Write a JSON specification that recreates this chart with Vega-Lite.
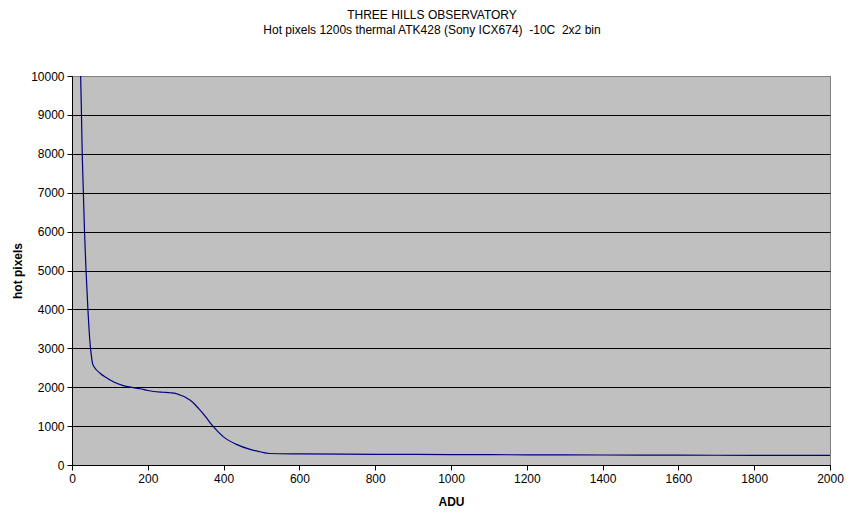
{
  "$schema": "https://vega.github.io/schema/vega-lite/v6.json",
  "width": 758,
  "height": 389,
  "autosize": {"type": "none"},
  "padding": {"left": 72, "top": 76, "right": 26, "bottom": 64},
  "background": "white",
  "config": {
    "font": "Liberation Sans",
    "view": {"fill": "#C0C0C0", "stroke": "#808080", "strokeWidth": 1}
  },
  "title": {
    "text": ["THREE HILLS OBSERVATORY", "Hot pixels 1200s thermal ATK428 (Sony ICX674) \u00a0-10C \u00a02x2 bin"],
    "fontSize": 12,
    "fontWeight": "normal",
    "font": "Liberation Sans",
    "color": "black",
    "lineHeight": 15,
    "anchor": "middle",
    "dx": -19,
    "offset": 33
  },
  "data": {
    "values": [
      {"adu": 20, "hot": 10600},
      {"adu": 23, "hot": 9900},
      {"adu": 25, "hot": 9000},
      {"adu": 27, "hot": 8000},
      {"adu": 30, "hot": 7000},
      {"adu": 33, "hot": 6000},
      {"adu": 37, "hot": 5000},
      {"adu": 42, "hot": 4000},
      {"adu": 47, "hot": 3200},
      {"adu": 50, "hot": 2900},
      {"adu": 54, "hot": 2620},
      {"adu": 60, "hot": 2500},
      {"adu": 74, "hot": 2360},
      {"adu": 90, "hot": 2250},
      {"adu": 109, "hot": 2140},
      {"adu": 135, "hot": 2040},
      {"adu": 162, "hot": 1990},
      {"adu": 180, "hot": 1960},
      {"adu": 200, "hot": 1915},
      {"adu": 215, "hot": 1890},
      {"adu": 240, "hot": 1870},
      {"adu": 259, "hot": 1858},
      {"adu": 275, "hot": 1835},
      {"adu": 285, "hot": 1800},
      {"adu": 298, "hot": 1750},
      {"adu": 311, "hot": 1670},
      {"adu": 325, "hot": 1550},
      {"adu": 338, "hot": 1410},
      {"adu": 355, "hot": 1210},
      {"adu": 369, "hot": 1030},
      {"adu": 385, "hot": 860},
      {"adu": 399, "hot": 730},
      {"adu": 434, "hot": 530},
      {"adu": 470, "hot": 400},
      {"adu": 496, "hot": 340},
      {"adu": 520, "hot": 295},
      {"adu": 600, "hot": 285},
      {"adu": 800, "hot": 275},
      {"adu": 1000, "hot": 268},
      {"adu": 1200, "hot": 262},
      {"adu": 1400, "hot": 257},
      {"adu": 1600, "hot": 253},
      {"adu": 1800, "hot": 249},
      {"adu": 2000, "hot": 245}
    ]
  },
  "mark": {"type": "line", "color": "#000080", "strokeWidth": 1.2, "interpolate": "monotone", "clip": true},
  "encoding": {
    "x": {
      "field": "adu",
      "type": "quantitative",
      "scale": {"domain": [0, 2000], "nice": false, "zero": true},
      "axis": {
        "title": "ADU",
        "titleFontSize": 12,
        "titleFontWeight": "bold",
        "titleColor": "black",
        "titlePadding": 12,
        "values": [0, 200, 400, 600, 800, 1000, 1200, 1400, 1600, 1800, 2000],
        "format": "d",
        "labelFontSize": 12,
        "labelColor": "black",
        "labelPadding": 3,
        "labelFlush": false,
        "grid": false,
        "domainColor": "black",
        "tickColor": "black",
        "tickSize": 5
      }
    },
    "y": {
      "field": "hot",
      "type": "quantitative",
      "scale": {"domain": [0, 10000], "nice": false},
      "axis": {
        "title": "hot pixels",
        "titleFontSize": 12,
        "titleFontWeight": "bold",
        "titleColor": "black",
        "titlePadding": 6,
        "values": [0, 1000, 2000, 3000, 4000, 5000, 6000, 7000, 8000, 9000, 10000],
        "format": "d",
        "labelFontSize": 12,
        "labelColor": "black",
        "labelPadding": 3,
        "labelFlush": false,
        "grid": true,
        "gridColor": {"condition": {"test": "datum.value === 10000", "value": "#808080"}, "value": "black"},
        "gridOpacity": 1,
        "gridWidth": 1,
        "domainColor": "black",
        "tickColor": "black",
        "tickSize": 5
      }
    }
  }
}
